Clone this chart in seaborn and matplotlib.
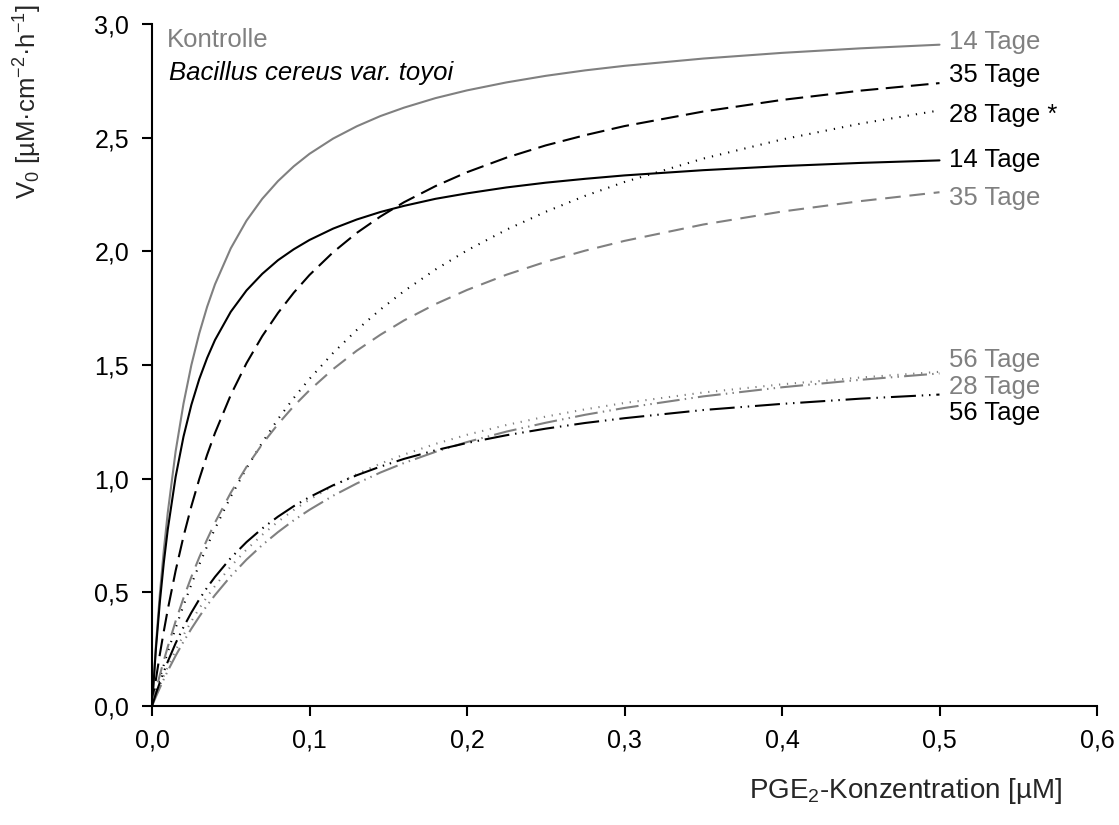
"""
Michaelis-Menten-Kurven: V0 gegen PGE2-Konzentration,
Kontrolle vs. Bacillus cereus var. toyoi.
"""

import matplotlib
matplotlib.use("Agg")
import matplotlib.pyplot as plt
import seaborn as sns

# =========================
# Daten
# =========================

konz = [0.0, 0.0025, 0.005, 0.0075, 0.01, 0.015, 0.02, 0.025, 0.03, 0.035, 0.04,
        0.05, 0.06, 0.07, 0.08, 0.09, 0.1, 0.115, 0.13, 0.145, 0.16, 0.18, 0.2,
        0.225, 0.25, 0.275, 0.3, 0.35, 0.4, 0.45, 0.5]

kontrolle_14 = [0.0, 0.268, 0.494, 0.685, 0.850, 1.120, 1.330, 1.500, 1.639, 1.756, 1.855,
                2.013, 2.135, 2.231, 2.309, 2.374, 2.429, 2.496, 2.550, 2.595, 2.632, 2.674,
                2.708, 2.743, 2.772, 2.796, 2.816, 2.848, 2.873, 2.893, 2.909]
bacillus_35 = [0.0, 0.118, 0.228, 0.329, 0.424, 0.595, 0.746, 0.879, 0.998, 1.105, 1.201,
               1.368, 1.508, 1.627, 1.729, 1.818, 1.896, 1.996, 2.081, 2.153, 2.216, 2.287,
               2.348, 2.412, 2.466, 2.511, 2.551, 2.615, 2.666, 2.707, 2.740]
bacillus_28 = [0.0, 0.063, 0.123, 0.181, 0.237, 0.343, 0.442, 0.535, 0.622, 0.703, 0.780,
               0.921, 1.046, 1.159, 1.262, 1.355, 1.439, 1.553, 1.654, 1.744, 1.825, 1.920,
               2.004, 2.095, 2.174, 2.244, 2.305, 2.408, 2.492, 2.562, 2.620]
bacillus_14 = [0.0, 0.253, 0.459, 0.631, 0.776, 1.008, 1.185, 1.325, 1.438, 1.531, 1.610,
               1.734, 1.828, 1.901, 1.961, 2.009, 2.050, 2.100, 2.140, 2.173, 2.200, 2.231,
               2.255, 2.281, 2.302, 2.319, 2.334, 2.357, 2.375, 2.389, 2.400]
kontrolle_35 = [0.0, 0.070, 0.137, 0.200, 0.260, 0.373, 0.475, 0.568, 0.654, 0.733, 0.807,
                0.938, 1.052, 1.152, 1.240, 1.319, 1.389, 1.482, 1.563, 1.633, 1.696, 1.768,
                1.830, 1.897, 1.954, 2.003, 2.046, 2.118, 2.175, 2.221, 2.260]
kontrolle_56 = [0.0, 0.041, 0.080, 0.118, 0.154, 0.221, 0.283, 0.340, 0.393, 0.443, 0.488,
                0.571, 0.644, 0.708, 0.765, 0.817, 0.863, 0.925, 0.979, 1.027, 1.069, 1.118,
                1.161, 1.207, 1.246, 1.281, 1.311, 1.362, 1.402, 1.435, 1.463]
kontrolle_28 = [0.0, 0.046, 0.090, 0.132, 0.171, 0.245, 0.312, 0.373, 0.429, 0.481, 0.528,
                0.614, 0.688, 0.753, 0.811, 0.862, 0.908, 0.968, 1.020, 1.066, 1.106, 1.153,
                1.193, 1.236, 1.273, 1.305, 1.333, 1.379, 1.415, 1.445, 1.470]
bacillus_56 = [0.0, 0.054, 0.104, 0.151, 0.195, 0.276, 0.347, 0.411, 0.469, 0.521, 0.568,
               0.651, 0.721, 0.781, 0.833, 0.879, 0.919, 0.971, 1.015, 1.053, 1.087, 1.125,
               1.157, 1.191, 1.220, 1.245, 1.266, 1.302, 1.329, 1.352, 1.370]

etiketten = ["14 Tage", "35 Tage", "28 Tage *", "14 Tage", "35 Tage",
             "56 Tage", "28 Tage", "56 Tage"]
etikett_y = [2.92, 2.776, 2.60, 2.402, 2.235, 1.522, 1.403, 1.289]

x_ticks = [0.0, 0.1, 0.2, 0.3, 0.4, 0.5, 0.6]
x_ticklabels = ["0,0", "0,1", "0,2", "0,3", "0,4", "0,5", "0,6"]
y_ticks = [0.0, 0.5, 1.0, 1.5, 2.0, 2.5, 3.0]
y_ticklabels = ["0,0", "0,5", "1,0", "1,5", "2,0", "2,5", "3,0"]

# =========================
# Stil
# =========================

sns.set_theme(style="ticks")
plt.rcParams["font.family"] = ["Liberation Sans", "DejaVu Sans"]
plt.rcParams["mathtext.fontset"] = "custom"
plt.rcParams["mathtext.rm"] = "Liberation Sans"
plt.rcParams["mathtext.it"] = "Liberation Sans:italic"

GRAU = "#808080"
SCHWARZ = "black"

# (Werte, Farbe, Linienstil) in derselben Reihenfolge wie die Etiketten
kurven = [
    (kontrolle_14, GRAU, "-"),
    (bacillus_35, SCHWARZ, (0, (8.5, 3.6))),
    (bacillus_28, SCHWARZ, (0, (0.6, 3.4))),
    (bacillus_14, SCHWARZ, "-"),
    (kontrolle_35, GRAU, (0, (7.5, 4.2))),
    (kontrolle_56, GRAU, (0, (11, 2.5, 0.7, 2.5, 0.7, 2.5))),
    (kontrolle_28, GRAU, (0, (0.6, 3.2))),
    (bacillus_56, SCHWARZ, (0, (12, 2.8, 0.7, 2.8, 0.7, 2.8))),
]

# =========================
# Grafik
# =========================

fig = plt.figure(figsize=(11.19, 8.25), dpi=100)
ax = fig.add_axes([152 / 1119, 1 - 706 / 825, 945 / 1119, 682 / 825])

for werte, farbe, stil in kurven:
    sns.lineplot(x=konz, y=werte, ax=ax, color=farbe, linestyle=stil,
                 linewidth=1.5, errorbar=None)

for text, yy, (_, farbe, _) in zip(etiketten, etikett_y, kurven):
    ax.text(0.506, yy, text, color=farbe, fontsize=18.5, ha="left", va="center")

ax.text(0.0095, 2.93, "Kontrolle", color=GRAU, fontsize=18.5, ha="left", va="center")
ax.text(0.0105, 2.785, "Bacillus cereus var. toyoi", color=SCHWARZ, fontsize=18.5,
        style="italic", ha="left", va="center")

ax.set_xlim(0, 0.6)
ax.set_ylim(0, 3.0)
ax.set_xticks(x_ticks)
ax.set_xticklabels(x_ticklabels)
ax.set_yticks(y_ticks)
ax.set_yticklabels(y_ticklabels)
ax.tick_params(axis="both", direction="out", length=7.5, width=1.5,
               labelsize=18, pad=9, color="black", labelcolor="black")

sns.despine(ax=ax)
for lado in ["left", "bottom"]:
    ax.spines[lado].set_linewidth(1.5)
    ax.spines[lado].set_color("black")

ax.set_xlabel("PGE$_2$-Konzentration [µM]", fontsize=20)
ax.xaxis.label.set_verticalalignment("center")
ax.xaxis.set_label_coords(0.797, -0.125)

ax.set_ylabel("V$_0$ [µM·cm$^{-2}$·h$^{-1}$]", fontsize=18.5)
ax.yaxis.label.set_verticalalignment("center")
ax.yaxis.set_label_coords(-0.131, 0.886)

ax.set_facecolor("white")
fig.patch.set_facecolor("white")

fig.savefig("out.png", dpi=100)
